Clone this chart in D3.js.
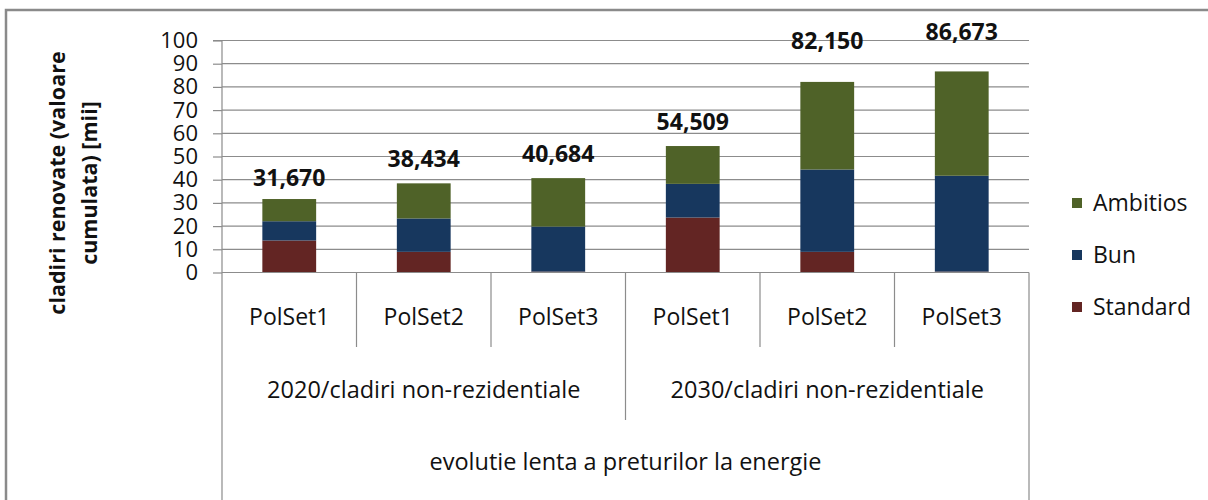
<!DOCTYPE html>
<html>
<head>
<meta charset="utf-8">
<script src="https://cdn.jsdelivr.net/npm/d3@7"></script>
<style>
  body { margin: 0; background: #fff; }
  svg { display: block; font-family: "Open Sans", sans-serif; }
</style>
</head>
<body>
<div id="chart"></div>
<script>
// data
const subCategories = ["PolSet1", "PolSet2", "PolSet3", "PolSet1", "PolSet2", "PolSet3"];
const groups = ["2020/cladiri non-rezidentiale", "2030/cladiri non-rezidentiale"];
const topGroup = "evolutie lenta a preturilor la energie";
const seriesNames = ["Standard", "Bun", "Ambitios"];
const standard = [13.8, 8.9, 0.4, 23.7, 8.9, 0.4];
const bun = [8.3, 14.4, 19.4, 14.5, 35.5, 41.3];
const ambitios = [9.57, 15.13, 20.88, 16.31, 37.75, 44.97];
const totals = [31.670, 38.434, 40.684, 54.509, 82.150, 86.673];
const yTicks = [0, 10, 20, 30, 40, 50, 60, 70, 80, 90, 100];

// layout
let width = 1208, height = 500;
let plotLeft = 222, plotRight = 1029, plotTop = 40.5, plotBottom = 272.5;
let labelLift = [13, 16, 16, 16, 33, 31];
let colors = { Standard: "#632523", Bun: "#17375E", Ambitios: "#4F6228" };
let gridColor = "#8c8c8c";
let fontSize = "23px";

let svg = d3.select("#chart").append("svg")
  .attr("width", width).attr("height", height);

// outer chart border
svg.append("rect")
  .attr("x", 6).attr("y", 10)
  .attr("width", width + 20).attr("height", height + 20)
  .attr("fill", "none").attr("stroke", "#8a8a8a").attr("stroke-width", 2.5);

let keys = subCategories.map((d, i) => i);
let x = d3.scaleBand().domain(keys).range([plotLeft, plotRight]).padding(0);
let y = d3.scaleLinear().domain([0, 100]).range([plotBottom, plotTop]);

/* gridlines */
svg.append("g")
  .selectAll("line")
  .data(yTicks)
  .enter().append("line")
  .attr("x1", plotLeft).attr("x2", plotRight)
  .attr("y1", d => y(d)).attr("y2", d => y(d))
  .attr("stroke", gridColor).attr("stroke-width", 1.2);

/* y axis */
let yAxis = d3.axisLeft(y).tickValues(yTicks).tickSize(9).tickPadding(15);
let yg = svg.append("g")
  .attr("transform", `translate(${plotLeft},0)`)
  .call(yAxis);
yg.select(".domain").attr("stroke", gridColor).attr("stroke-width", 1.2)
  .attr("d", `M-9,${y(100)}H0V${height}`);
yg.selectAll(".tick line").attr("stroke", gridColor).attr("stroke-width", 1.2);
yg.selectAll(".tick text")
  .attr("font-size", "22px").attr("fill", "#111")
  .attr("font-family", "Open Sans, sans-serif");

/* y axis title */
let title = svg.append("text")
  .attr("transform", "translate(74,183) rotate(-90)")
  .attr("text-anchor", "middle")
  .attr("font-size", "21.5px").attr("font-weight", "bold").attr("fill", "#111");
title.append("tspan").attr("x", 0).attr("dy", "-0.42em").text("cladiri renovate (valoare");
title.append("tspan").attr("x", 0).attr("dy", "1.5em").text("cumulata) [mii]");

/* stacked bars */
let rows = keys.map(i => ({ i, Standard: standard[i], Bun: bun[i], Ambitios: ambitios[i] }));
let stacked = d3.stack().keys(seriesNames)(rows);
let barW = x.bandwidth() * 0.4;

svg.append("g")
  .selectAll("g")
  .data(stacked)
  .enter().append("g")
  .attr("fill", d => colors[d.key])
  .selectAll("rect")
  .data(d => d)
  .enter().append("rect")
  .attr("x", d => x(d.data.i) + (x.bandwidth() - barW) / 2)
  .attr("width", barW)
  .attr("y", d => y(d[1]))
  .attr("height", d => y(d[0]) - y(d[1]));

/* total labels */
svg.append("g")
  .selectAll("text")
  .data(keys)
  .enter().append("text")
  .attr("x", i => x(i) + x.bandwidth() / 2)
  .attr("y", i => y(d3.sum(stacked, s => s[i][1] - s[i][0])) - labelLift[i])
  .attr("text-anchor", "middle")
  .attr("font-size", "23px").attr("font-weight", "bold").attr("fill", "#111")
  .text(i => totals[i].toFixed(3).replace(".", ","));

/* multi-level category axis */
let axisG = svg.append("g").attr("stroke", gridColor).attr("stroke-width", 1.2);
axisG.append("line").attr("x1", plotLeft).attr("x2", plotRight).attr("y1", plotBottom).attr("y2", plotBottom);
[1, 2, 3, 4, 5, 6].forEach(k => {
  let xx = k < 6 ? x(k) : plotRight;
  let y2 = k === 6 ? height : (k === 3 ? 420 : 347);
  axisG.append("line").attr("x1", xx).attr("x2", xx).attr("y1", plotBottom).attr("y2", y2);
});

svg.append("g")
  .selectAll("text")
  .data(keys)
  .enter().append("text")
  .attr("x", i => x(i) + x.bandwidth() / 2)
  .attr("y", 317)
  .attr("dy", "0.35em")
  .attr("text-anchor", "middle")
  .attr("font-size", fontSize).attr("fill", "#111")
  .text(i => subCategories[i]);

svg.append("g")
  .selectAll("text")
  .data(groups)
  .enter().append("text")
  .attr("x", (d, g) => (x(g * 3) + (g === 0 ? x(3) : plotRight)) / 2)
  .attr("y", 390)
  .attr("dy", "0.35em")
  .attr("text-anchor", "middle")
  .attr("font-size", "23.5px").attr("fill", "#111")
  .text(d => d);

svg.append("text")
  .attr("x", (plotLeft + plotRight) / 2)
  .attr("y", 462)
  .attr("dy", "0.35em")
  .attr("text-anchor", "middle")
  .attr("font-size", "23.5px").attr("fill", "#111")
  .text(topGroup);

/* legend */
let legend = svg.append("g")
  .selectAll("g")
  .data(seriesNames.slice().reverse())
  .enter().append("g")
  .attr("transform", (d, i) => `translate(1072,${203 + i * 52})`);
legend.append("rect")
  .attr("x", 0).attr("y", -5).attr("width", 10).attr("height", 10)
  .attr("fill", d => colors[d]);
legend.append("text")
  .attr("x", 21).attr("dy", "0.35em")
  .attr("font-size", fontSize).attr("fill", "#111")
  .text(d => d);
</script>
</body>
</html>
